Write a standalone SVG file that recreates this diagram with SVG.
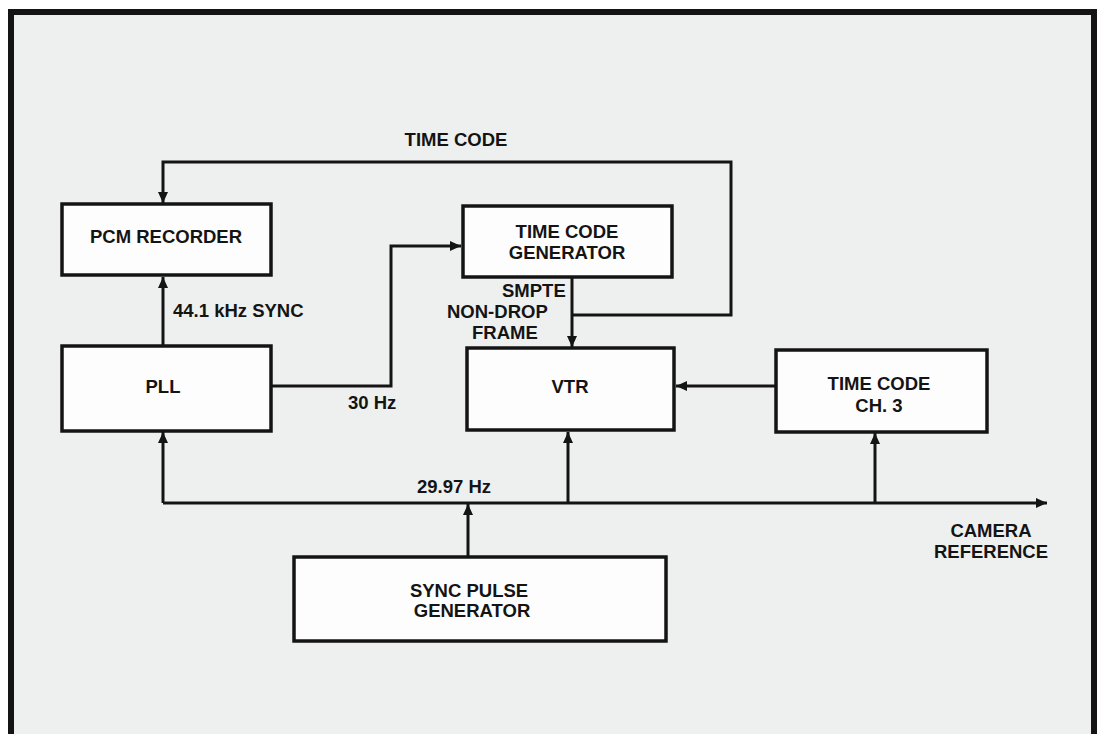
<svg xmlns="http://www.w3.org/2000/svg" width="1106" height="734" viewBox="0 0 1106 734">
<style>
.box{fill:#fdfdfd;stroke:#141414;stroke-width:3.5}
.t{font-family:"Liberation Sans",Arial,sans-serif;font-weight:bold;font-size:18.5px;fill:#141414}
.c{text-anchor:middle}
.w{fill:none;stroke:#141414;stroke-width:3}
</style>
<defs>
<marker id="ah" markerUnits="userSpaceOnUse" markerWidth="12" markerHeight="10" refX="11" refY="5" orient="auto">
<path d="M0,0 L11,5 L0,10 Z" fill="#141414"/>
</marker>
</defs>
<rect x="0" y="0" width="1106" height="734" fill="#ffffff"/>
<rect id="frame" x="11" y="12" width="1083" height="740" fill="#eef0ef" stroke="#141414" stroke-width="6"/>
<g id="connectors">
<path class="w" d="M163,346 V277" marker-end="url(#ah)"/>
<path class="w" d="M573,315 H731 V162 H163 V203" marker-end="url(#ah)"/>
<path class="w" d="M271,386 H391 V246 H461" marker-end="url(#ah)"/>
<path class="w" d="M572,277 V347" marker-end="url(#ah)"/>
<path class="w" d="M776,386 H676" marker-end="url(#ah)"/>
<path class="w" d="M163,503 V432" marker-end="url(#ah)"/>
<path class="w" d="M163,503 H1047" marker-end="url(#ah)"/>
<path class="w" d="M568,503 V432" marker-end="url(#ah)"/>
<path class="w" d="M875,503 V433" marker-end="url(#ah)"/>
<path class="w" d="M468,557 V504" marker-end="url(#ah)"/>
</g>
<g id="labels">
<text class="t c" x="456" y="146">TIME CODE</text>
<text class="t" x="173" y="317">44.1 kHz SYNC</text>
<text class="t" x="348" y="409">30 Hz</text>
<text class="t" x="502" y="297">SMPTE</text>
<text class="t" x="447" y="318">NON-DROP</text>
<text class="t" x="472" y="339">FRAME</text>
<text class="t c" x="454" y="493">29.97 Hz</text>
<text class="t c" x="991" y="537">CAMERA</text>
<text class="t c" x="991" y="558">REFERENCE</text>
</g>
<g id="pcm">
<rect class="box" x="62" y="204" width="209" height="71"/>
<text class="t c" x="166" y="243">PCM RECORDER</text>
</g>
<g id="pll">
<rect class="box" x="62" y="346" width="209" height="85"/>
<text class="t c" x="163" y="393">PLL</text>
</g>
<g id="tcg">
<rect class="box" x="463" y="206" width="209" height="71"/>
<text class="t c" x="567" y="238">TIME CODE</text>
<text class="t c" x="567" y="259">GENERATOR</text>
</g>
<g id="vtr">
<rect class="box" x="467" y="348" width="207" height="82"/>
<text class="t c" x="570" y="393">VTR</text>
</g>
<g id="tcch3">
<rect class="box" x="776" y="350" width="211" height="82"/>
<text class="t c" x="879" y="390">TIME CODE</text>
<text class="t c" x="879" y="412">CH. 3</text>
</g>
<g id="spg">
<rect class="box" x="294" y="557" width="372" height="84"/>
<text class="t c" x="469" y="597">SYNC PULSE</text>
<text class="t c" x="472" y="617">GENERATOR</text>
</g>
</svg>
